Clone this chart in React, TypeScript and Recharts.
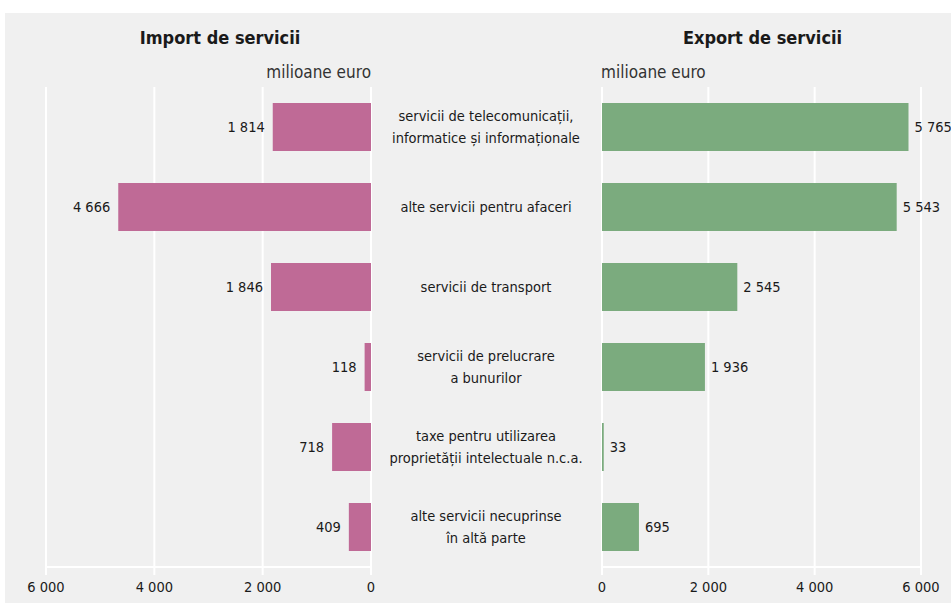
import React from 'react'
import { BarChart, Bar, XAxis, YAxis, CartesianGrid, LabelList } from 'recharts'

const categories = [
  'servicii de telecomunicații,\ninformatice și informaționale',
  'alte servicii pentru afaceri',
  'servicii de transport',
  'servicii de prelucrare\na bunurilor',
  'taxe pentru utilizarea\nproprietății intelectuale n.c.a.',
  'alte servicii necuprinse\nîn altă parte',
]
const importValues = [1814, 4666, 1846, 118, 718, 409]
const exportValues = [5765, 5543, 2545, 1936, 33, 695]
const ticks = [0, 2000, 4000, 6000]

const data = categories.map((name, i) => ({ name, imp: importValues[i], exp: exportValues[i] }))

const W = 951
const H = 603
const FONT = '"DejaVu Sans Condensed", "Liberation Sans Narrow", "Roboto", sans-serif'
const PINK = '#bf6a96'
const GREEN = '#7bab7e'
const TEXT = '#1a1a1a'

const fmt = (v: number | string) => String(v).replace(/\B(?=(\d{3})+(?!\d))/g, ' ')

const CENTER_X = 486

function CategoryTick(props: any) {
  const { y, payload } = props
  const lines: string[] = String(payload.value).split('\n')
  const lh = 22
  const y0 = y - ((lines.length - 1) * lh) / 2
  return (
    <text textAnchor="middle" fontFamily={FONT} fontSize={14.5} fill={TEXT}>
      {lines.map((l, i) => (
        <tspan key={i} x={CENTER_X} y={y0 + i * lh} dy="0.35em">{l}</tspan>
      ))}
    </text>
  )
}

// value label at the outer end of a bar; side = -1 for leftward bars, 1 for rightward
const makeValueLabel = (side: number) => (props: any) => {
  const { x, y, width, height, value } = props
  const left = Math.min(x, x + width)
  const right = Math.max(x, x + width)
  const tx = side < 0 ? left - 8 : right + 6
  return (
    <text x={tx} y={y + height / 2} dy="0.35em" textAnchor={side < 0 ? 'end' : 'start'}
      fontFamily={FONT} fontSize={14.5} fill={TEXT}>
      {fmt(value)}
    </text>
  )
}

const axisTick = { fill: TEXT, fontSize: 14.5, fontFamily: FONT, dy: 5 }

export default function App() {
  return (
    <div style={{ position: 'absolute', left: 0, top: 0, width: W, height: H, background: '#fff', fontFamily: FONT, overflow: 'hidden' }}>
      <div style={{ position: 'absolute', left: 5, top: 13, right: 0, bottom: 0, background: '#f0f0f0' }} />
      <div style={{ position: 'absolute', left: 0, width: 440, top: 27, textAlign: 'center', fontWeight: 700, fontSize: 18, color: TEXT }}>
        Import de servicii
      </div>
      <div style={{ position: 'absolute', left: 590, width: 345, top: 27, textAlign: 'center', fontWeight: 700, fontSize: 18, color: TEXT }}>
        Export de servicii
      </div>
      <div style={{ position: 'absolute', right: W - 371, top: 62, fontSize: 17, color: '#333' }}>milioane euro</div>
      <div style={{ position: 'absolute', left: 601, top: 62, fontSize: 17, color: '#333' }}>milioane euro</div>

      <div style={{ position: 'absolute', left: 0, top: 0 }}>
        <BarChart width={W} height={H} data={data} layout="vertical"
          margin={{ top: 87, right: W - 371, left: 46, bottom: 6 }} barCategoryGap={16}>
          <CartesianGrid horizontal={false} stroke="#fff" strokeWidth={2} />
          <XAxis type="number" domain={[0, 6000]} ticks={ticks} reversed tickFormatter={fmt}
            axisLine={{ stroke: '#fff', strokeWidth: 2 }} tickLine={{ stroke: '#fff', strokeWidth: 2 }}
            tickSize={8} height={30} tick={axisTick} interval={0} />
          <YAxis type="category" dataKey="name" hide />
          <Bar dataKey="imp" fill={PINK} isAnimationActive={false}>
            <LabelList dataKey="imp" content={makeValueLabel(-1)} />
          </Bar>
        </BarChart>
      </div>

      <div style={{ position: 'absolute', left: 0, top: 0 }}>
        <BarChart width={W} height={H} data={data} layout="vertical"
          margin={{ top: 87, right: W - 921, left: 371, bottom: 6 }} barCategoryGap={16}>
          <CartesianGrid horizontal={false} stroke="#fff" strokeWidth={2} />
          <XAxis type="number" domain={[0, 6000]} ticks={ticks} tickFormatter={fmt}
            axisLine={{ stroke: '#fff', strokeWidth: 2 }} tickLine={{ stroke: '#fff', strokeWidth: 2 }}
            tickSize={8} height={30} tick={axisTick} interval={0} />
          <YAxis type="category" dataKey="name" width={231} axisLine={false} tickLine={false}
            tick={<CategoryTick />} interval={0} />
          <Bar dataKey="exp" fill={GREEN} isAnimationActive={false}>
            <LabelList dataKey="exp" content={makeValueLabel(1)} />
          </Bar>
        </BarChart>
      </div>
    </div>
  )
}
